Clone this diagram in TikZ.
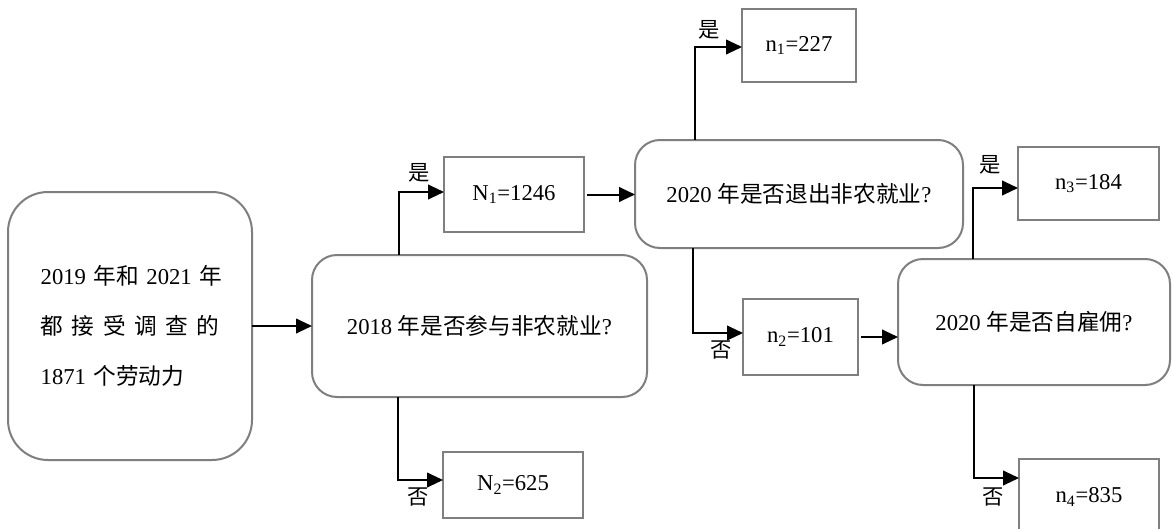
\documentclass[tikz,border=0pt]{standalone}
\usepackage{fontspec}
\setmainfont{Liberation Serif}
\newfontfamily\cjk{Noto Sans CJK SC}
\usetikzlibrary{arrows.meta,calc}
\definecolor{boxgray}{RGB}{127,127,127}
\begin{document}
\begin{tikzpicture}[x=0.75pt,y=-0.75pt,
  box/.style={draw=boxgray,line width=1.5pt,fill=white,inner sep=0pt,outer sep=0pt,
    font=\fontsize{17}{20}\selectfont,align=center},
  rbox/.style={box,rounded corners=18.75pt},
  arr/.style={line width=1.5pt,-{Triangle[length=12pt,width=11pt]}},
  lab/.style={font=\cjk\fontsize{16}{18}\selectfont,inner sep=0pt}]
\fill[white] (0,0) rectangle (1173,528);
\useasboundingbox (0,0) rectangle (1173,528);

\node[rbox,rounded corners=30pt,minimum width=183pt,minimum height=201pt,
  text width=134pt,align=left,font=\fontsize{17}{37.5}\selectfont] (start) at (130,326)
  {\mbox{2019 {\cjk 年和} 2021 {\cjk 年}}\\
   \makebox[134pt][s]{\cjk 都\hfill 接\hfill 受\hfill 调\hfill 查\hfill 的}\\
   \mbox{1871 {\cjk 个劳动力}}};

\node[rbox,minimum width=251.25pt,minimum height=106.5pt] (q1) at (479.5,326)
  {2018 {\cjk 年是否参与非农就业}?};
\node[box,minimum width=105pt,minimum height=56.25pt] (N1) at (514,194.5) {N\textsubscript{1}=1246};
\node[box,minimum width=105pt,minimum height=49.5pt] (N2) at (513,485) {N\textsubscript{2}=625};

\node[rbox,minimum width=246pt,minimum height=81pt] (q2) at (799,194)
  {2020 {\cjk 年是否退出非农就业}?};
\node[box,minimum width=85.5pt,minimum height=54.75pt] (n1) at (799,45.5) {n\textsubscript{1}=227};
\node[box,minimum width=86.25pt,minimum height=57pt] (n2) at (800.5,337) {n\textsubscript{2}=101};

\node[rbox,minimum width=204pt,minimum height=94.5pt] (q3) at (1034,322)
  {2020 {\cjk 年是否自雇佣}?};
\node[box,minimum width=105.75pt,minimum height=54.75pt] (n3) at (1088.5,183.5) {n\textsubscript{3}=184};
\node[box,minimum width=105pt,minimum height=57pt] (n4) at (1089,497) {n\textsubscript{4}=835};

\draw[arr] (start.east) -- (start.east -| q1.west);
\draw[arr] ($(q1.north west)+(87,0)$) |- ($(N1.north west)+(0,35)$);
\draw[arr] ($(q1.south west)+(86,0)$) |- ($(N2.north west)+(0,28)$);
\draw[arr] ([xshift=2pt]N1.east) -- (N1.east -| q2.west);
\draw[arr] ($(q2.north west)+(60,0)$) |- ($(n1.north west)+(0,38)$);
\draw[arr] ($(q2.south west)+(58,0)$) |- ($(n2.north west)+(0,34)$);
\draw[arr] ([xshift=2pt]n2.east) -- (n2.east -| q3.west);
\draw[arr] ($(q3.north west)+(75,0)$) |- ($(n3.north west)+(0,41)$);
\draw[arr] ($(q3.south west)+(76,0)$) |- ($(n4.north west)+(0,19)$);

\node[lab] (y1) at (419,173) {是};
\node[lab] (f1) at (418,497) {否};
\node[lab] (y2) at (709,30) {是};
\node[lab] (f2) at (721,350) {否};
\node[lab] (y3) at (990,165) {是};
\node[lab] (f3) at (993,497) {否};
\end{tikzpicture}
\end{document}
